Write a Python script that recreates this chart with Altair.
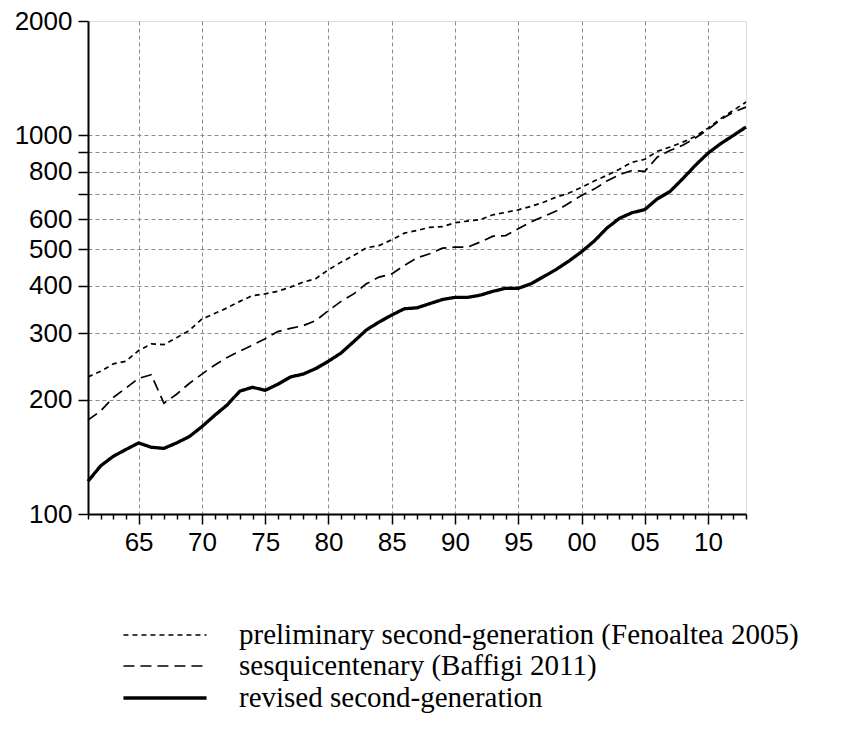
import altair as alt
import pandas as pd

years = list(range(1861, 1914))

prelim = [230, 238, 249, 253, 270, 281, 280, 292, 305, 327,
          338, 350, 364, 377, 381, 387, 397, 409, 418, 441,
          462, 481, 504, 511, 529, 551, 560, 571, 573, 587,
          593, 598, 616, 625, 635, 648, 665, 686, 703, 728,
          756, 783, 813, 848, 863, 906, 930, 958, 992, 1043,
          1105, 1162, 1222]

sesqui = [177, 187, 203, 215, 228, 233, 196, 207, 221, 234,
          247, 259, 269, 279, 290, 303, 309, 314, 324, 344,
          364, 381, 405, 422, 430, 453, 474, 486, 503, 506,
          506, 522, 541, 543, 566, 590, 610, 630, 661, 693,
          720, 756, 786, 807, 802, 875, 911, 940, 982, 1035,
          1098, 1150, 1185]

revised = [122, 134, 142, 148, 154, 150, 149, 154, 160, 170,
           182, 194, 211, 216, 212, 220, 230, 234, 242, 253,
           266, 285, 306, 321, 335, 348, 350, 359, 368, 373,
           373, 378, 387, 394, 394, 405, 423, 442, 465, 492,
           525, 568, 603, 624, 636, 679, 710, 767, 832, 896,
           949, 998, 1050]

series_names = [
    "preliminary second-generation (Fenoaltea 2005)",
    "sesquicentenary (Baffigi 2011)",
    "revised second-generation",
]

y_ticks = [100, 200, 300, 400, 500, 600, 700, 800, 900, 1000, 2000]

rows = []
for name, vals in zip(series_names, [prelim, sesqui, revised]):
    for yr, v in zip(years, vals):
        rows.append({"year": yr, "value": v, "series": name})
df = pd.DataFrame(rows)

legend = alt.Legend(
    title=None,
    orient="none",
    legendX=60,
    legendY=598,
    direction="vertical",
    symbolType="M-2.77,0H2.77",
    symbolSize=900,
    symbolStrokeColor="black",
    symbolFillColor="transparent",
    labelFont="Liberation Serif",
    labelFontSize=29,
    labelColor="black",
    labelOffset=57,
    labelLimit=1000,
    rowPadding=0,
    padding=0,
)

x_axis = alt.Axis(
    values=years,
    title=None,
    labelExpr="datum.value % 5 === 0 ? substring(toString(datum.value), 2, 4) : ''",
    labelFont="Liberation Sans",
    labelFontSize=26,
    labelColor="black",
    labelPadding=5,
    labelOverlap=False,
    labelFlush=False,
    tickSize={"condition": {"test": "datum.value % 5 === 0", "value": 10}, "value": 5},
    tickColor="black",
    tickWidth=1.5,
    domainColor="black",
    domainWidth=2,
    grid=True,
    gridColor="#8c8c8c",
    gridDash=[4, 3],
    gridWidth=1,
    gridOpacity={"condition": {"test": "datum.value % 5 === 0", "value": 1}, "value": 0},
)

y_axis = alt.Axis(
    values=y_ticks,
    title=None,
    labelExpr="(datum.value == 700 || datum.value == 900) ? '' : format(datum.value, 'd')",
    labelFont="Liberation Sans",
    labelFontSize=26,
    labelColor="black",
    labelPadding=6,
    labelOverlap=False,
    labelFlush=False,
    tickSize=10,
    tickColor="black",
    tickWidth=1.5,
    domainColor="black",
    domainWidth=2,
    grid=True,
    gridColor="#8c8c8c",
    gridDash=[4, 3],
    gridWidth=1,
    gridOpacity={"condition": {"test": "datum.value == 100 || datum.value == 2000", "value": 0}, "value": 1},
)

chart = alt.Chart(df).mark_line(color="black", strokeCap="butt", strokeJoin="miter").encode(
    x=alt.X("year:Q", scale=alt.Scale(domain=[1861, 1913], nice=False, zero=False), axis=x_axis),
    y=alt.Y("value:Q", scale=alt.Scale(type="log", domain=[100, 2000], nice=False), axis=y_axis),
    strokeDash=alt.StrokeDash(
        "series:N",
        scale=alt.Scale(type="ordinal", domain=series_names, range=[[5, 4], [11, 6], [1, 0]]),
        legend=legend,
    ),
    strokeWidth=alt.StrokeWidth(
        "series:N",
        scale=alt.Scale(type="ordinal", domain=series_names, range=[1.7, 1.7, 3.3]),
        legend=legend,
    ),
    detail="series:N",
).properties(
    width=658,
    height=493,
    autosize=alt.AutoSizeParams(type="none"),
    padding={"left": 88, "top": 21, "right": 99, "bottom": 235},
).configure_view(
    stroke="black",
    strokeWidth=2,
).configure(
    background="white",
)

chart.save("out.html", embed_options={"renderer": "svg", "actions": False})
